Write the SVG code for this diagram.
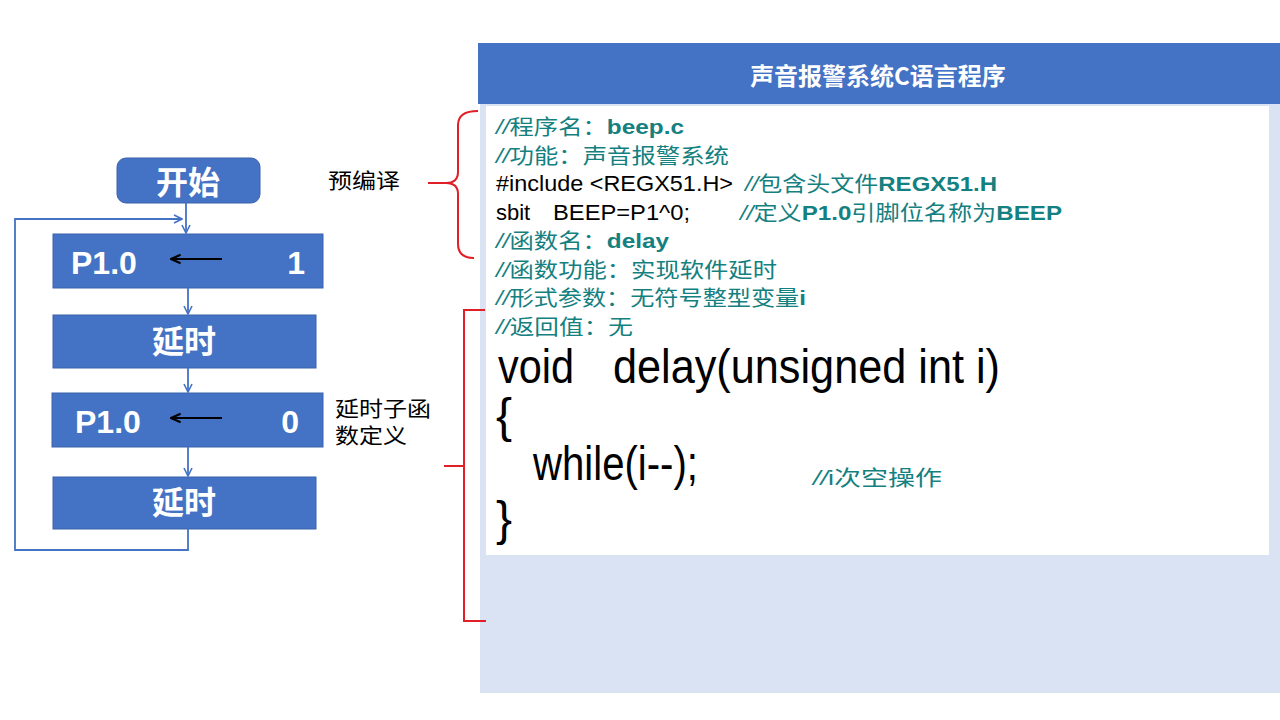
<svg xmlns="http://www.w3.org/2000/svg" width="1280" height="720" viewBox="0 0 1280 720">
<style>
.box{fill:#4472C4;stroke:#3A62AC;stroke-width:1}
.wt{fill:#FFFFFF;font-family:"Noto Sans CJK SC","Liberation Sans",sans-serif;font-size:32px;font-weight:bold}
.wl{fill:#FFFFFF;font-family:"Liberation Sans","Noto Sans CJK SC",sans-serif;font-size:32px;font-weight:bold}
.con{fill:none;stroke:#4472C4;stroke-width:1.8}
.lbl{fill:#000;font-family:"Noto Sans CJK SC",sans-serif;font-size:21px}
.red{fill:none;stroke:#E01F26;stroke-width:2}
.cm{fill:#14807F;font-family:"Liberation Sans","Noto Sans CJK SC",sans-serif;font-size:21px}
.cj{font-family:"Noto Sans CJK SC",sans-serif}
.it{font-style:italic}
.b{font-weight:bold}
.bk{fill:#000;font-family:"Liberation Sans",sans-serif;font-size:22px}
.big{fill:#000;font-family:"Liberation Sans",sans-serif;font-size:48px}
</style>
<defs>
<marker id="ah" viewBox="0 0 10 10" refX="9" refY="5" markerWidth="10" markerHeight="10" markerUnits="userSpaceOnUse" orient="auto">
<path d="M1,1 L9,5 L1,9" fill="none" stroke="#4472C4" stroke-width="1.6"/>
</marker>
<marker id="ahk" viewBox="0 0 10 10" refX="9" refY="5" markerWidth="12" markerHeight="12" markerUnits="userSpaceOnUse" orient="auto">
<path d="M1,1.5 L9,5 L1,8.5" fill="none" stroke="#000" stroke-width="1.8"/>
</marker>
</defs>
<rect width="1280" height="720" fill="#FFFFFF"/>

<g id="panel">
<rect x="480" y="104" width="800" height="589" fill="#DAE3F3"/>
<rect x="478" y="43" width="802" height="61" fill="#4472C4"/>
<text x="878" y="85" text-anchor="middle" fill="#FFFFFF" font-family="'Noto Sans CJK SC',sans-serif" font-size="24" font-weight="bold">声音报警系统C语言程序</text>
<rect x="486" y="106" width="783" height="449" fill="#FFFFFF"/>
</g>

<g id="code">
<text class="cm" x="496" y="134" textLength="188" lengthAdjust="spacingAndGlyphs"><tspan class="it">//</tspan><tspan class="cj">程序名：</tspan><tspan class="b">beep.c</tspan></text>
<text class="cm" x="496" y="162.5" textLength="233" lengthAdjust="spacingAndGlyphs"><tspan class="it">//</tspan><tspan class="cj">功能：声音报警系统</tspan></text>
<text class="bk" x="496" y="191" textLength="237" lengthAdjust="spacingAndGlyphs">#include &lt;REGX51.H&gt;</text>
<text class="cm" x="745" y="191" textLength="252" lengthAdjust="spacingAndGlyphs"><tspan class="it">//</tspan><tspan class="cj">包含头文件</tspan><tspan class="b">REGX51.H</tspan></text>
<text class="bk" x="496" y="219.5">sbit</text>
<text class="bk" x="553" y="219.5" textLength="137" lengthAdjust="spacingAndGlyphs">BEEP=P1^0;</text>
<text class="cm" x="740" y="219.5" textLength="322" lengthAdjust="spacingAndGlyphs"><tspan class="it">//</tspan><tspan class="cj">定义</tspan><tspan class="b">P1.0</tspan><tspan class="cj">引脚位名称为</tspan><tspan class="b">BEEP</tspan></text>
<text class="cm" x="496" y="248" textLength="173" lengthAdjust="spacingAndGlyphs"><tspan class="it">//</tspan><tspan class="cj">函数名：</tspan><tspan class="b">delay</tspan></text>
<text class="cm" x="496" y="276.5" textLength="281" lengthAdjust="spacingAndGlyphs"><tspan class="it">//</tspan><tspan class="cj">函数功能：实现软件延时</tspan></text>
<text class="cm" x="496" y="305" textLength="310" lengthAdjust="spacingAndGlyphs"><tspan class="it">//</tspan><tspan class="cj">形式参数：无符号整型变量</tspan><tspan class="b">i</tspan></text>
<text class="cm" x="496" y="333.5" textLength="137" lengthAdjust="spacingAndGlyphs"><tspan class="it">//</tspan><tspan class="cj">返回值：无</tspan></text>
<text class="big" x="498" y="383" textLength="76" lengthAdjust="spacingAndGlyphs">void</text>
<text class="big" x="613" y="383" textLength="387" lengthAdjust="spacingAndGlyphs">delay(unsigned int i)</text>
<text class="big" x="496" y="432">{</text>
<text class="big" x="533" y="480" textLength="165" lengthAdjust="spacingAndGlyphs">while(i--);</text>
<text class="cm" x="813" y="485" textLength="129" lengthAdjust="spacingAndGlyphs"><tspan class="it">//</tspan><tspan>i</tspan><tspan class="cj">次空操作</tspan></text>
<text class="big" x="496" y="535">}</text>
</g>

<g id="brackets">
<path class="red" d="M478,111 Q458,111 458,125 L458,172 Q458,183 446,183 L428,183 M446,183 Q458,183 458,194 L458,244 Q458,258 474,258"/>
<path class="red" d="M485,310 L464,310 L464,621 L486,621 M444,466 L464,466" stroke="#D42027"/>
</g>

<g id="label-precompile"><text class="lbl" x="328" y="188" textLength="72" lengthAdjust="spacingAndGlyphs">预编译</text></g>
<g id="label-delayfunc"><text class="lbl" x="335" y="416" textLength="96" lengthAdjust="spacingAndGlyphs">延时子函</text><text class="lbl" x="335" y="443" textLength="72" lengthAdjust="spacingAndGlyphs">数定义</text></g>

<g id="node-start">
<rect class="box" x="117" y="158" width="143" height="45" rx="9"/>
<text class="wt" x="188" y="194" text-anchor="middle">开始</text>
</g>
<g id="node-p10-1">
<rect class="box" x="53" y="234" width="270" height="54"/>
<text class="wl" x="71" y="274">P1.0</text>
<text class="wl" x="305" y="274" text-anchor="end">1</text>
<line x1="222" y1="259" x2="171" y2="259" stroke="#000" stroke-width="1.8" marker-end="url(#ahk)"/>
</g>
<g id="node-delay-1">
<rect class="box" x="53" y="315" width="263" height="53"/>
<text class="wt" x="184" y="353" text-anchor="middle">延时</text>
</g>
<g id="node-p10-0">
<rect class="box" x="52" y="393" width="271" height="54"/>
<text class="wl" x="75" y="433">P1.0</text>
<text class="wl" x="299" y="433" text-anchor="end">0</text>
<line x1="222" y1="418" x2="171" y2="418" stroke="#000" stroke-width="1.8" marker-end="url(#ahk)"/>
</g>
<g id="node-delay-2">
<rect class="box" x="53" y="477" width="263" height="52"/>
<text class="wt" x="184" y="514" text-anchor="middle">延时</text>
</g>

<g id="connectors">
<line class="con" x1="186" y1="203" x2="186" y2="233" marker-end="url(#ah)"/>
<line class="con" x1="188" y1="288" x2="188" y2="314" marker-end="url(#ah)"/>
<line class="con" x1="188" y1="368" x2="188" y2="392" marker-end="url(#ah)"/>
<line class="con" x1="188" y1="447" x2="188" y2="476" marker-end="url(#ah)"/>
<polyline class="con" points="188,529 188,550 15,550 15,219 182,219" marker-end="url(#ah)"/>
</g>
</svg>
